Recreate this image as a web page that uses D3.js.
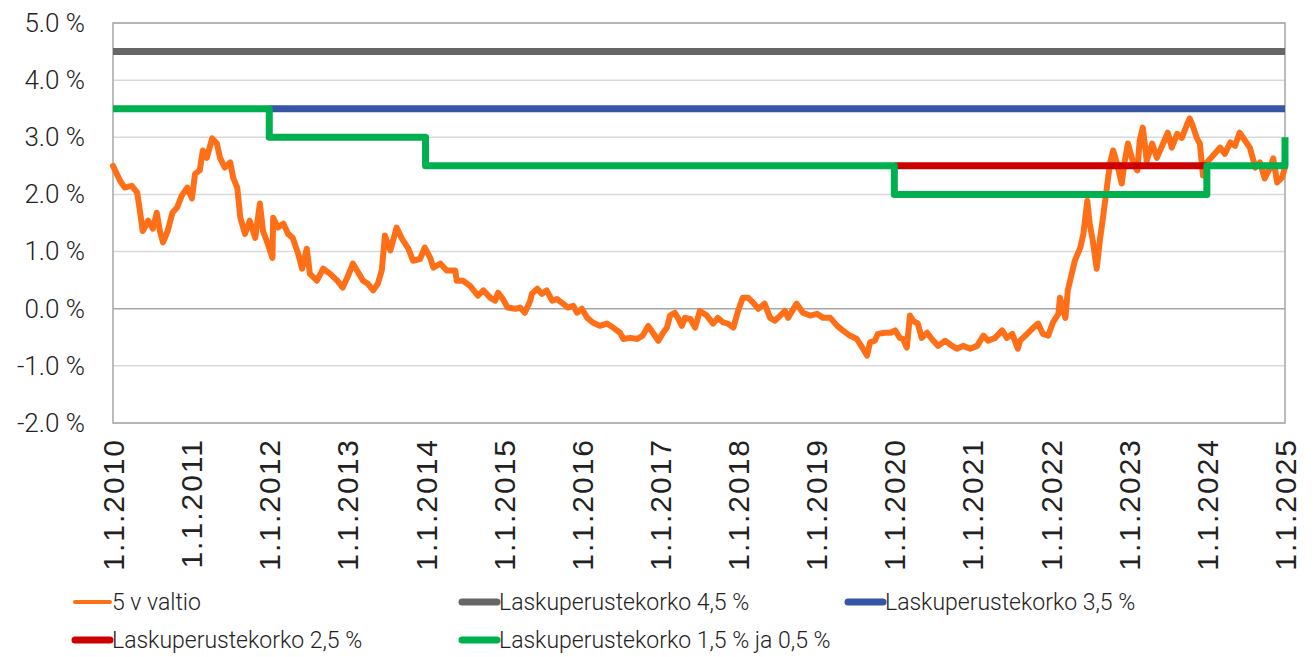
<!DOCTYPE html>
<head>
    <title>Laskuperustekorot ja 5 v valtio</title>
    <meta charset="utf-8">
    <style>
        body { margin: 0; background: #fff; }
        text { font-family: "Roboto", sans-serif; font-weight: 300; fill: #222; }
    </style>
</head>

<body>
<div id="chart"></div>

<script src="https://d3js.org/d3.v7.min.js"></script>

<script>

var margin = {top: 23, right: 31, bottom: 234, left: 113},
    width = 1316 - margin.left - margin.right,
    height = 657 - margin.top - margin.bottom;

// Years shown on the x axis (ticks are 1.1. of each year)
var years = d3.range(2010, 2026);

// y ticks in percent
var yTicks = [-2, -1, 0, 1, 2, 3, 4, 5];

// 5 v valtio: [years since 2010, yield %]
var valtio = [
    [0.00,2.50],[0.09,2.24],[0.15,2.12],[0.24,2.15],[0.31,2.03],[0.35,1.66],[0.38,1.36],[0.45,1.54],
    [0.51,1.40],[0.56,1.68],[0.60,1.36],[0.64,1.16],[0.70,1.36],[0.76,1.68],[0.82,1.77],[0.88,1.98],
    [0.95,2.12],[1.01,1.93],[1.05,2.36],[1.11,2.42],[1.15,2.77],[1.20,2.64],[1.27,2.98],[1.33,2.89],
    [1.37,2.64],[1.43,2.47],[1.50,2.56],[1.54,2.28],[1.59,2.12],[1.63,1.59],[1.69,1.31],[1.75,1.54],
    [1.82,1.24],[1.88,1.84],[1.92,1.36],[1.98,1.14],[2.04,0.89],[2.05,1.59],[2.11,1.42],[2.18,1.49],
    [2.24,1.31],[2.30,1.24],[2.37,0.96],[2.42,0.70],[2.48,1.05],[2.52,0.61],[2.61,0.49],[2.69,0.70],
    [2.78,0.61],[2.87,0.49],[2.94,0.37],[3.01,0.58],[3.07,0.79],[3.14,0.63],[3.20,0.49],[3.26,0.44],
    [3.33,0.32],[3.39,0.44],[3.44,0.67],[3.48,1.28],[3.55,1.02],[3.63,1.42],[3.70,1.22],[3.78,1.05],
    [3.84,0.84],[3.93,0.87],[3.99,1.07],[4.06,0.89],[4.10,0.72],[4.19,0.79],[4.27,0.67],[4.38,0.67],
    [4.40,0.49],[4.48,0.49],[4.57,0.40],[4.67,0.23],[4.74,0.32],[4.83,0.19],[4.89,0.14],[4.93,0.28],
    [4.99,0.17],[5.05,0.02],[5.15,0.00],[5.21,0.02],[5.27,-0.07],[5.34,0.14],[5.36,0.26],[5.43,0.35],
    [5.49,0.26],[5.55,0.32],[5.62,0.14],[5.68,0.17],[5.76,0.09],[5.82,0.02],[5.89,0.05],[5.94,-0.07],
    [6.00,0.00],[6.07,-0.16],[6.14,-0.24],[6.23,-0.30],[6.32,-0.26],[6.40,-0.33],[6.49,-0.42],[6.53,-0.53],
    [6.62,-0.51],[6.71,-0.53],[6.78,-0.47],[6.85,-0.30],[6.91,-0.42],[6.98,-0.56],[7.04,-0.42],[7.09,-0.33],
    [7.13,-0.12],[7.19,-0.07],[7.23,-0.16],[7.28,-0.30],[7.32,-0.16],[7.39,-0.18],[7.45,-0.33],[7.51,-0.04],
    [7.60,-0.12],[7.68,-0.26],[7.74,-0.16],[7.81,-0.24],[7.87,-0.26],[7.94,-0.33],[8.00,-0.04],[8.06,0.19],
    [8.13,0.19],[8.19,0.11],[8.26,0.00],[8.34,0.09],[8.41,-0.16],[8.47,-0.21],[8.54,-0.12],[8.60,-0.04],
    [8.64,-0.16],[8.75,0.09],[8.83,-0.07],[8.92,-0.12],[9.01,-0.09],[9.09,-0.16],[9.18,-0.16],[9.27,-0.30],
    [9.34,-0.38],[9.43,-0.47],[9.52,-0.53],[9.59,-0.68],[9.65,-0.82],[9.69,-0.59],[9.75,-0.56],[9.79,-0.44],
    [9.88,-0.42],[9.95,-0.42],[10.01,-0.38],[10.07,-0.51],[10.11,-0.53],[10.16,-0.68],[10.20,-0.12],[10.24,-0.21],
    [10.30,-0.26],[10.35,-0.51],[10.42,-0.42],[10.48,-0.53],[10.56,-0.65],[10.65,-0.56],[10.74,-0.65],[10.80,-0.70],
    [10.88,-0.65],[10.97,-0.70],[11.06,-0.65],[11.14,-0.47],[11.20,-0.56],[11.29,-0.51],[11.38,-0.38],[11.44,-0.51],
    [11.51,-0.44],[11.58,-0.70],[11.61,-0.56],[11.70,-0.44],[11.78,-0.33],[11.84,-0.26],[11.90,-0.44],[11.97,-0.47],
    [12.03,-0.24],[12.10,-0.09],[12.12,0.19],[12.19,-0.16],[12.22,0.32],[12.27,0.61],[12.31,0.84],[12.38,1.07],
    [12.42,1.31],[12.47,1.89],[12.50,1.49],[12.54,1.19],[12.59,0.70],[12.63,1.19],[12.67,1.59],[12.72,2.12],
    [12.76,2.54],[12.80,2.77],[12.85,2.54],[12.91,2.19],[12.95,2.59],[12.99,2.89],[13.06,2.54],[13.11,2.42],
    [13.14,2.94],[13.18,3.17],[13.23,2.59],[13.30,2.89],[13.36,2.64],[13.44,2.89],[13.50,3.08],[13.55,2.82],
    [13.62,3.06],[13.68,2.99],[13.75,3.24],[13.78,3.33],[13.82,3.20],[13.87,2.99],[13.91,2.89],[13.95,2.33],
    [14.00,2.56],[14.08,2.68],[14.17,2.82],[14.23,2.71],[14.30,2.91],[14.36,2.85],[14.42,3.08],[14.49,2.94],
    [14.55,2.82],[14.62,2.47],[14.68,2.56],[14.74,2.28],[14.81,2.47],[14.85,2.63],[14.90,2.21],[14.96,2.29],
    [15.00,2.47]
];

// Laskuperustekorot: [start year, %] (steps)
var korko45 = [[2010, 4.5], [2025, 4.5]];
var korko35 = [[2012, 3.5], [2025, 3.5]];
var korko25 = [[2020, 2.5], [2024, 2.5]];
var korko15 = [[2010, 3.5], [2012, 3.0], [2014, 2.5], [2020, 2.0], [2024, 2.5], [2025, 3.0]];

var series = [
    { name: "5 v valtio", data: valtio.map(function(d) { return [2010 + d[0], d[1]]; }), color: "#ff6f17", width: 6, step: false },
    { name: "Laskuperustekorko 4,5 %", data: korko45, color: "#666666", width: 7, step: true },
    { name: "Laskuperustekorko 3,5 %", data: korko35, color: "#3655a5", width: 7, step: true },
    { name: "Laskuperustekorko 2,5 %", data: korko25, color: "#cc0000", width: 7, step: true },
    { name: "Laskuperustekorko 1,5 % ja 0,5 %", data: korko15, color: "#00b04f", width: 7, step: true }
];

var svg = d3.select("#chart").append("svg")
    .attr("width", width + margin.left + margin.right)
    .attr("height", height + margin.top + margin.bottom)
    .append("g")
    .attr("transform", "translate(" + margin.left + "," + margin.top + ")");

var x = d3.scaleLinear().domain([2010, 2025]).range([0, width]);
var y = d3.scaleLinear().domain([-2, 5]).range([height, 0]);

// grid
svg.selectAll(".grid")
    .data(yTicks)
    .enter().append("line")
    .attr("x1", 0).attr("x2", width)
    .attr("y1", function(d) { return y(d); })
    .attr("y2", function(d) { return y(d); })
    .attr("stroke", function(d) { return d === 0 ? "#a6a6a6" : "#d9d9d9"; })
    .attr("stroke-width", 1.5);

// border
svg.append("rect")
    .attr("width", width).attr("height", height)
    .attr("fill", "none").attr("stroke", "#a6a6a6").attr("stroke-width", 1.5);

// y axis
var yAxis = svg.append("g")
    .call(d3.axisLeft(y).tickValues(yTicks).tickSize(0).tickPadding(28)
        .tickFormat(function(d) { return d3.format(".1f")(d).replace("−", "-") + " %"; }));
yAxis.select(".domain").remove();
yAxis.selectAll("text")
    .style("font-size", "26px")
    .style("font-family", "Roboto, sans-serif")
    .style("font-weight", 300)
    .attr("fill", "#222");

// x axis
var xAxis = svg.append("g")
    .attr("transform", "translate(0," + height + ")")
    .call(d3.axisBottom(x).tickValues(years).tickSize(0)
        .tickFormat(function(d) { return "1.1." + d; }));
xAxis.select(".domain").remove();
xAxis.selectAll("text")
    .attr("transform", "rotate(-90)")
    .attr("text-anchor", "end")
    .attr("x", -15)
    .attr("y", 0)
    .attr("dy", "0.35em")
    .style("font-size", "30px")
    .style("letter-spacing", "2px")
    .style("font-family", "Liberation Sans, Arial, sans-serif")
    .style("font-weight", 400)
    .attr("fill", "#222");

// lines
var line = d3.line()
    .x(function(d) { return x(d[0]); })
    .y(function(d) { return y(d[1]); });

series.forEach(function(s) {
    svg.append("path")
        .datum(s.data)
        .attr("fill", "none")
        .attr("stroke", s.color)
        .attr("stroke-width", s.width)
        .attr("stroke-linejoin", "round")
        .attr("stroke-linecap", s.step ? "butt" : "round")
        .attr("d", line.curve(s.step ? d3.curveStepAfter : d3.curveLinear));
});

// legend
var legendPos = [[-38, 579], [349, 579], [735, 579], [-38, 617], [349, 617]];
var legend = svg.selectAll(".legend")
    .data(series)
    .enter().append("g")
    .attr("transform", function(d, i) { return "translate(" + legendPos[i][0] + "," + legendPos[i][1] + ")"; });

legend.append("line")
    .attr("x1", 0).attr("x2", 35)
    .attr("stroke", function(d) { return d.color; })
    .attr("stroke-width", function(d) { return d.step ? 7 : 4; })
    .attr("stroke-linecap", "round");

legend.append("text")
    .attr("x", 37)
    .attr("dy", "0.35em")
    .style("font-size", "23px")
    .text(function(d) { return d.name; });

</script>

</body>
</html>
